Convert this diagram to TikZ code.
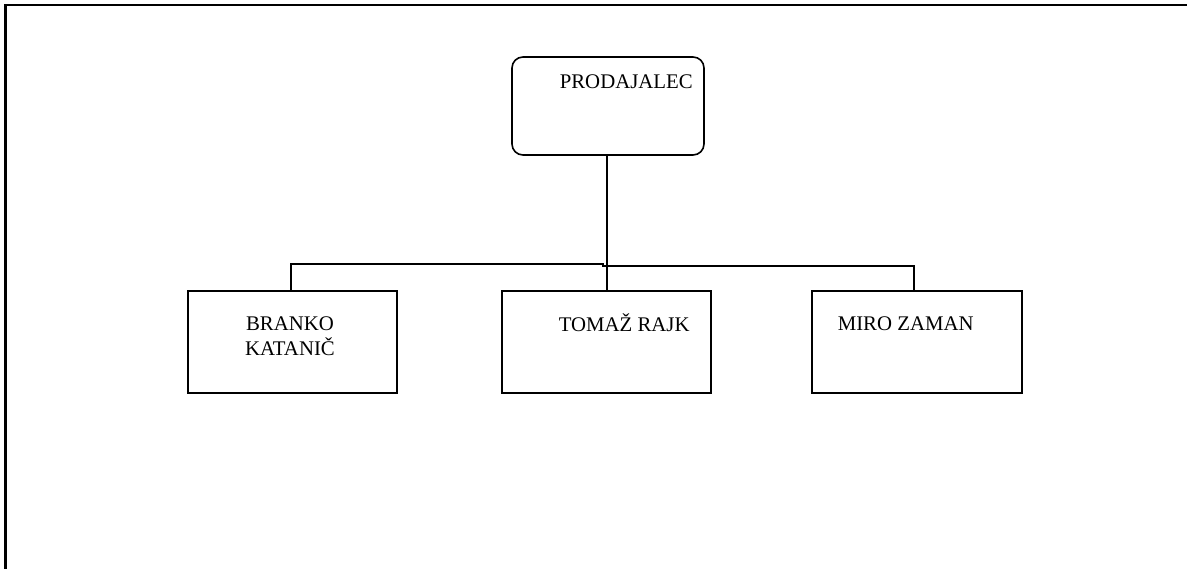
\documentclass[tikz,border=0pt]{standalone}
\usepackage{fontspec}
\setmainfont{Liberation Serif}
\begin{document}
\begin{tikzpicture}[x=1pt,y=-1pt,
  line width=1.6pt,
  box/.style={draw, line width=1.6pt, inner sep=0pt, outer sep=0pt},
  txt/.style={font=\fontsize{20.8}{25}\selectfont, inner sep=0pt},
  lbl/.style={txt, anchor=base west},
  link/.style={line width=1.6pt}]
  \useasboundingbox (0,0) rectangle (1187,569);
  % page frame (top and left edges only)
  \draw[line width=2.4pt] (1187,5) -- (5.5,5) -- (5.5,569);

  % boxes
  \node[box, rounded corners=11pt, minimum width=192pt, minimum height=98pt] (prod) at (608,106) {};
  \node[box, minimum width=209pt, minimum height=102pt] (branko) at (292.5,342) {};
  \node[box, minimum width=209pt, minimum height=102pt] (tomaz) at (606.5,342) {};
  \node[box, minimum width=210pt, minimum height=102pt] (miro) at (917,342) {};

  % labels
  \node[lbl] (prodt) at (559,89) {PRODAJALEC};
  \node[txt, align=center, anchor=base] (brankot) at (290,356) {BRANKO\\KATANIČ};
  \node[lbl] (tomazt) at (558,332) {TOMAŽ RAJK};
  \node[lbl] (mirot) at (837,331) {MIRO ZAMAN};

  % connectors
  \coordinate (j) at (607,266);
  \coordinate (bj) at (291,264);
  \coordinate (bs) at (603,264);
  \coordinate (mj) at (914,266);
  \draw[link] (prod.south -| j) -- (tomaz.north -| j);
  \draw[link] (branko.north -| bj) -- (bj) -- (bs) -- (bs |- j) -- (j);
  \draw[link] (j) -- (mj) -- (miro.north -| mj);
\end{tikzpicture}
\end{document}
